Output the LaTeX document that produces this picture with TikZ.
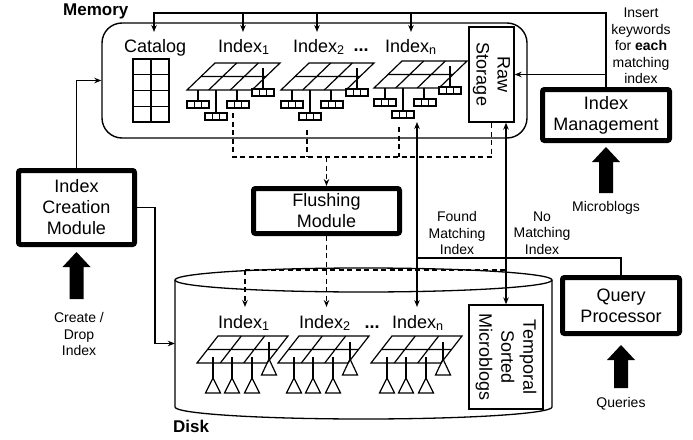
\documentclass[tikz,border=0pt]{standalone}
\usepackage{fontspec}
\setmainfont{Liberation Sans}
\usetikzlibrary{arrows.meta}
\newcommand\fsbig{\fontsize{18}{21}\selectfont}
\newcommand\fssmall{\fontsize{14}{16.5}\selectfont}
\newcommand\fshead{\fontsize{17}{20}\selectfont\bfseries}
\begin{document}
\begin{tikzpicture}[x=1pt,y=-1pt,
  >={Stealth[length=7pt,width=5.5pt]},
  conn/.style={line width=1.3pt},
  dsh/.style={line width=1.3pt,dash pattern=on 5pt off 3.5pt},
  thickbox/.style={draw,line width=5pt,rounded corners=2pt,inner sep=0pt,align=center,font=\fsbig},
  thinbox/.style={draw,line width=1.3pt,inner sep=0pt},
  lbl/.style={font=\fsbig,inner sep=0pt,anchor=base west},
  small/.style={font=\fssmall,align=center,inner sep=0pt},
  memidx/.pic={
    \draw[line width=1.2pt] (0,0) -- (65,0) -- (93,-27) -- (28,-27) -- cycle;
    \draw[line width=1.2pt] (14,-13.5) -- (79,-13.5) (21.7,0) -- (49.7,-27) (43.3,0) -- (71.3,-27);
    \draw[line width=1.2pt] (11,0) -- (11,11) (29,0) -- (29,23) (50,0) -- (50,11) (76,-22) -- (76,-1);
    \foreach \bx/\by in {0/11,18/23,40/11,65/-1}{
      \draw[line width=1.3pt] (\bx,\by) rectangle ++(22,7);
      \draw[line width=1.3pt] (\bx+7.33,\by) -- ++(0,7) (\bx+14.67,\by) -- ++(0,7);
    }
  },
  diskidx/.pic={
    \draw[line width=1.2pt] (0,0) -- (70,0) -- (91,-27) -- (21,-27) -- cycle;
    \draw[line width=1.2pt] (10.5,-13.5) -- (80.5,-13.5) (23.3,0) -- (44.3,-27) (46.7,0) -- (67.7,-27);
    \foreach \tx in {16,35,55}{
      \draw[line width=1.2pt] (\tx,-6) -- (\tx,15);
      \draw[line width=1.2pt] (\tx,15) -- (\tx-7.5,30) -- (\tx+7.5,30) -- cycle;
    }
    \draw[line width=1.2pt] (72,-21) -- (72,-4);
    \draw[line width=1.2pt] (72,-4) -- (64.5,12) -- (79.5,12) -- cycle;
  },
  fatup/.pic={
    \fill (0,0) -- (14,15) -- (7,15) -- (7,#1) -- (-7,#1) -- (-7,15) -- (-14,15) -- cycle;
  }
]
\useasboundingbox (0,0) rectangle (693,439);

% ---------- Memory ----------
\node[font=\fshead,inner sep=0pt,anchor=base west] (memlbl) at (63,16) {Memory};
\node[draw,line width=1.4pt,rounded corners=20pt,minimum width=425pt,minimum height=115pt,inner sep=0pt] (mem) at (314.5,80.5) {};

\node[lbl] (catlbl) at (124,52) {Catalog};
\draw[line width=1.4pt] (133,59) rectangle (169,122);
\draw[line width=1.4pt] (151,59) -- (151,122) (133,74.75) -- (169,74.75) (133,90.5) -- (169,90.5) (133,106.25) -- (169,106.25);

\node[lbl] (mi1) at (218,52) {Index\textsubscript{1}};
\node[lbl] (mi2) at (293,52) {Index\textsubscript{2}};
\node[font=\fsbig\bfseries,inner sep=0pt,anchor=base] (mdots) at (361,51) {...};
\node[lbl] (min) at (385,52) {Index\textsubscript{n}};

\pic at (187,90) {memidx};
\pic at (281,90) {memidx};
\pic at (374,88) {memidx};

\node[thinbox,minimum width=45pt,minimum height=95pt] (raw) at (491.5,74.5) {};
\node[font=\fsbig,align=center,rotate=-90,inner sep=0pt] (rawtxt) at (raw.center) {Raw\\Storage};

% ---------- Modules ----------
\node[thickbox,minimum width=127pt,minimum height=51pt] (im) at (606,115) {Index\\Management};
\node[thickbox,minimum width=116pt,minimum height=74pt] (icm) at (76.5,207.5) {Index\\Creation\\Module};
\node[thickbox,minimum width=146pt,minimum height=45pt] (flush) at (326.5,211) {Flushing\\Module};
\node[thickbox,minimum width=117pt,minimum height=56pt] (qp) at (621,305.5) {Query\\Processor};

\node[small] (inslbl) at (641,46) {Insert\\keywords\\for \textbf{each}\\matching\\index};
\node[small] (mblbl) at (606,208) {Microblogs};
\node[small] (cdlbl) at (79,334) {Create /\\Drop\\Index};
\node[small] (fmlbl) at (457,233) {Found\\Matching\\Index};
\node[small] (nmlbl) at (542,233) {No\\Matching\\Index};
\node[small] (qlbl) at (621,404) {Queries};

\pic at (606,147) {fatup=46};
\pic at (76.5,252) {fatup=47};
\pic at (621,345) {fatup=43};

% ---------- Disk ----------
\node[minimum width=377pt,minimum height=151pt,inner sep=0pt] (disk) at (363.5,343.5) {};
\draw[conn] (363.5,280) ellipse [x radius=188.5, y radius=12];
\draw[conn] (175,280) -- (175,407) arc[start angle=180, end angle=0, x radius=188.5, y radius=12] -- (552,280);
\node[font=\fshead,inner sep=0pt,anchor=base west] (disklbl) at (173,432) {Disk};

\node[lbl] (di1) at (218,328) {Index\textsubscript{1}};
\node[lbl] (di2) at (299,328) {Index\textsubscript{2}};
\node[font=\fsbig\bfseries,inner sep=0pt,anchor=base] (ddots) at (372,328) {...};
\node[lbl] (din) at (392,328) {Index\textsubscript{n}};

\pic at (197,363) {diskidx};
\pic at (278,363) {diskidx};
\pic at (371,363) {diskidx};

\node[thinbox,minimum width=74pt,minimum height=104pt] (tsm) at (506,357) {};
\node[font=\fontsize{18}{22}\selectfont,align=center,rotate=-90,inner sep=0pt] (tsmtxt) at (tsm.center) {Temporal\\Sorted\\Microblogs};

% ---------- Coordinates ----------
\coordinate (bcat) at (154,13);
\coordinate (b1) at (243,13);
\coordinate (b2) at (317,13);
\coordinate (bn) at (411,13);
\coordinate (tcat) at (154,32);
\coordinate (t1) at (243,32);
\coordinate (t2) at (317,32);
\coordinate (tn) at (411,32);
\coordinate (imraw) at (606,74.5);
\coordinate (d1) at (233,113);
\coordinate (d2) at (307,130);
\coordinate (dn) at (399,127);
\coordinate (h1) at (233,157);
\coordinate (h2) at (307,157);
\coordinate (hn) at (399,157);
\coordinate (hr) at (491.5,157);
\coordinate (hf) at (326.5,157);
\coordinate (k0) at (326.5,270);
\coordinate (k1) at (245,270);
\coordinate (kr) at (506,270);
\coordinate (e1) at (245,307);
\coordinate (e2) at (326.5,307);
\coordinate (fmtop) at (417,122);
\coordinate (fmbot) at (417,307);
\coordinate (fmmid) at (417,258);

% ---------- Connectors ----------
\draw[conn,->] (im.north) |- (bcat) -- (tcat);
\draw[conn,->] (b1) -- (t1);
\draw[conn,->] (b2) -- (t2);
\draw[conn,->] (bn) -- (tn);
\draw[conn,->] (imraw) -- (raw.east);

\draw[conn,->] (icm.north) |- (mem.west);
\draw[conn,->] (icm.east) -- ++(18,0) |- (disk.west);

\draw[dsh] (d1) -- (h1) -- (hr) -- (raw.south);
\draw[dsh] (d2) -- (h2);
\draw[dsh] (dn) -- (hn);
\draw[dsh,->] (hf) -- (flush.north);

\draw[dsh] (flush.south) -- (k0);
\draw[dsh] (k1) -- (kr);
\draw[dsh,->] (k1) -- (e1);
\draw[dsh,->] (k0) -- (e2);

\draw[conn] (qp.north) |- (fmmid);
\draw[conn,<->] (fmtop) -- (fmbot);
\draw[conn,<->] (raw.south -| tsm.north) -- (tsm.north);
\end{tikzpicture}
\end{document}
